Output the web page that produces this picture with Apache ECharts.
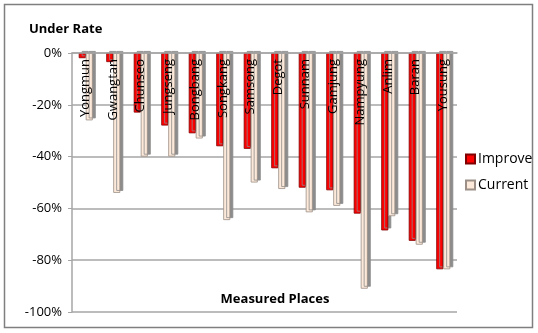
<!DOCTYPE html>
<html>
<head>
<meta charset="utf-8">
<script src="https://cdn.jsdelivr.net/npm/echarts@6/dist/echarts.min.js"></script>
<style>
  html, body { margin: 0; padding: 0; background: #fff; }
  #chart { width: 538px; height: 333px; }
</style>
</head>
<body>
<div id="chart"></div>
<script>
// Measurement sites along the x axis
const places = ['Yongmun', 'Gwangtan', 'Chunseo', 'Jungseng', 'Bongbang', 'Songkang', 'Samsong',
                'Degot', 'Sunnam', 'Gamjung', 'Nampyung', 'Anlim', 'Baran', 'Yousung'];
// Under rate (%) per site
const improve = [-2, -3.5, -23, -28, -31, -36, -37, -44.5, -52, -53, -62, -68.5, -72.5, -83.5];
const current = [-26, -54, -40, -40, -33, -64.5, -50, -52.5, -61.5, -59, -91, -63, -74, -83.5];
// Value axis ticks
const yTicks = [0, -20, -40, -60, -80, -100];

const FONT = '"Open Sans", "Noto Sans", sans-serif';
const chart = echarts.init(document.getElementById('chart'));

chart.setOption({
  animation: false,
  textStyle: { fontFamily: FONT },
  title: [
    { text: 'Under Rate', left: 24, top: 18,
      textStyle: { fontSize: 13, fontWeight: 'bold', color: '#000', fontFamily: FONT } },
    { text: 'Measured Places', left: 270, top: 288, textAlign: 'center',
      textStyle: { fontSize: 13, fontWeight: 'bold', color: '#000', fontFamily: FONT } }
  ],
  graphic: [
    { type: 'rect', shape: { x: 4.5, y: 4.5, width: 528, height: 323 },
      style: { fill: 'none', stroke: '#7f7f7f', lineWidth: 1.5 }, silent: true }
  ],
  legend: {
    orient: 'vertical', left: 460, top: 147, itemGap: 12,
    itemWidth: 9, itemHeight: 9, icon: 'rect',
    textStyle: { fontSize: 14, color: '#000', fontFamily: FONT, padding: [0, 0, 0, -2] },
    data: ['Improve', 'Current']
  },
  grid: { left: 72, right: 81, top: 53, bottom: 21 },
  xAxis: {
    type: 'category', data: places, position: 'top',
    axisLine: { show: true, lineStyle: { color: '#a6a6a6', width: 1.5 } },
    axisTick: { show: false },
    axisLabel: { inside: true, rotate: 90, margin: 6, fontSize: 13, color: '#000',
                 fontFamily: FONT, interval: 0 },
    z: 10
  },
  yAxis: {
    type: 'value', min: -100, max: 0, interval: 20,
    axisLine: { show: true, lineStyle: { color: '#a6a6a6', width: 1.5 } },
    axisTick: { show: true, length: 4, lineStyle: { color: '#a6a6a6' } },
    axisLabel: { fontSize: 13, color: '#000', margin: 10, fontFamily: FONT,
                 padding: [5, 0, 0, 0],
                 formatter: v => yTicks.includes(v) ? v + '%' : '' },
    splitLine: { show: true, lineStyle: { color: '#a6a6a6', width: 1.5 } }
  },
  series: [
    { name: 'Improve', type: 'bar', data: improve, barWidth: 7, barGap: '0%',
      itemStyle: { color: '#ff0000', borderColor: '#7f0000', borderWidth: 0.8,
                   shadowColor: '#8c8c8c', shadowOffsetX: 3, shadowOffsetY: -2, shadowBlur: 0 } },
    { name: 'Current', type: 'bar', data: current, barWidth: 7,
      itemStyle: { color: '#fde9d9', borderColor: '#9c8f87', borderWidth: 0.8,
                   shadowColor: '#8c8c8c', shadowOffsetX: 3, shadowOffsetY: -2, shadowBlur: 0 } }
  ]
});
</script>
</body>
</html>
